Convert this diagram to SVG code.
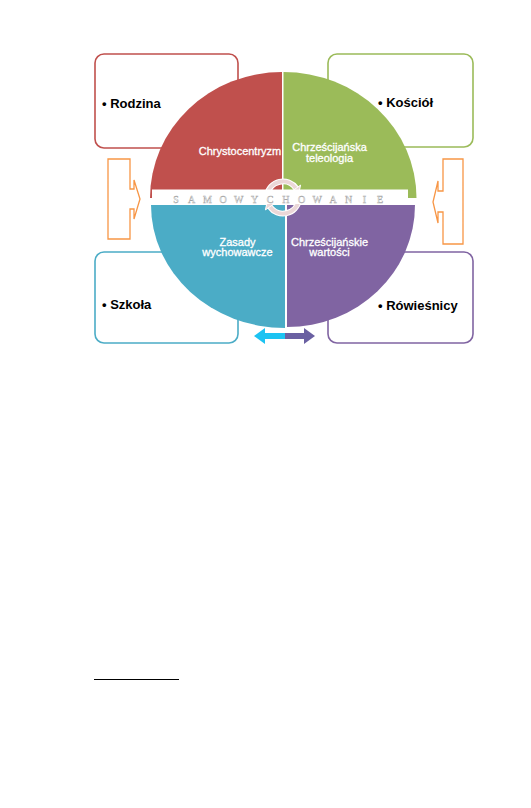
<svg xmlns="http://www.w3.org/2000/svg" width="531" height="808" viewBox="0 0 531 808">
<style>
.box{fill:#ffffff;stroke-width:1.6}
.btxt{font-family:"Liberation Sans",Arial,sans-serif;font-weight:bold;font-size:13px;fill:#000}
.qtxt{font-family:"Liberation Sans",Arial,sans-serif;font-size:11px;fill:#ffffff;stroke:#ffffff;stroke-width:0.3;text-anchor:middle}
.orange{fill:#ffffff;stroke:#f79646;stroke-width:1.3}
.band{font-family:"Liberation Serif","Times New Roman",serif;font-size:10px;fill:#ffffff;stroke:#a8a8a8;stroke-width:0.45;text-anchor:middle}
.ring{fill:none;stroke:#ebd7d7;stroke-width:4}
.ringbg{fill:none;stroke:#ffffff;stroke-width:6}
.head{fill:#ebd7d7;stroke:#ffffff;stroke-width:1}
</style>
<rect width="531" height="808" fill="#ffffff"/>

<g id="box-rodzina">
  <rect class="box" x="95" y="54" width="143" height="94" rx="9" stroke="#c0504d"/>
  <text class="btxt" x="102" y="108">• Rodzina</text>
</g>
<g id="box-kosciol">
  <rect class="box" x="328" y="54" width="145" height="93" rx="9" stroke="#9bbb59"/>
  <text class="btxt" x="378" y="107">• Kościół</text>
</g>
<g id="box-szkola">
  <rect class="box" x="95" y="252" width="143" height="91" rx="9" stroke="#4bacc6"/>
  <text class="btxt" x="102" y="309">• Szkoła</text>
</g>
<g id="box-rowiesnicy">
  <rect class="box" x="328" y="252" width="145" height="91" rx="9" stroke="#8064a2"/>
  <text class="btxt" x="378" y="310">• Rówieśnicy</text>
</g>

<g id="connectors">
  <path class="orange" d="M108,159 H130 V189 H134 V180 L140,199 L134,219 V209 H130 V239 H108 Z"/>
  <path class="orange" d="M463,159 H443 V191 H438 V181 L433,202 L438,223 V212 H443 V244 H463 Z"/>
  <path d="M254,336 L265,328 V333 H285 V339 H265 V344 Z" fill="#1cc3f2"/>
  <path d="M285,333 H304 V328 L315,336 L304,344 V339 H285 Z" fill="#6a60a2"/>
</g>

<g id="circle">
  <path id="q-chrystocentryzm" d="M282,198 H150 A132,126 0 0 1 282,72 Z" fill="#c0504d"/>
  <path id="q-teleologia" d="M283.5,198 V72 A133,126 0 0 1 416.5,198 Z" fill="#9bbb59"/>
  <path id="q-zasady" d="M285,205 H151 A134,123 0 0 0 285,328 Z" fill="#4bacc6"/>
  <path id="q-wartosci" d="M287,205 H415 A128,122 0 0 1 287,327 Z" fill="#8064a2"/>
</g>

<g id="cycle">
  <path class="ringbg" d="M267.2,194.7 A16,16 0 0 1 296.1,188.3"/>
  <path class="ring" d="M267.2,194.7 A16,16 0 0 1 296.1,188.3"/>
  <path class="head" d="M300.6,185.1 L291.6,191.5 L298.5,194.5 Z"/>
  <path class="ringbg" d="M298.8,200.3 A16,16 0 0 1 269.9,206.7"/>
  <path class="ring" d="M298.8,200.3 A16,16 0 0 1 269.9,206.7"/>
  <path class="head" d="M265.4,209.9 L274.4,203.5 L267.5,200.5 Z"/>
</g>

<g id="samowychowanie">
  <rect x="152" y="189.5" width="256" height="14.5" fill="#ffffff"/>
  <text class="band" x="176 191.7 207.4 223.1 238.8 254.5 270.2 285.9 301.6 317.3 333 348.7 364.4 380.1" y="203">SAMOWYCHOWANIE</text>
</g>

<g id="labels">
  <text class="qtxt" x="240" y="155">Chrystocentryzm</text>
  <text class="qtxt" x="329.5" y="151">Chrześcijańska</text>
  <text class="qtxt" x="329.5" y="161.5">teleologia</text>
  <text class="qtxt" x="237.5" y="245.5">Zasady</text>
  <text class="qtxt" x="237.5" y="256">wychowawcze</text>
  <text class="qtxt" x="329.5" y="245.5">Chrześcijańskie</text>
  <text class="qtxt" x="329.5" y="256">wartości</text>
</g>

<line x1="94" y1="679.5" x2="179" y2="679.5" stroke="#000000" stroke-width="1"/>
</svg>
